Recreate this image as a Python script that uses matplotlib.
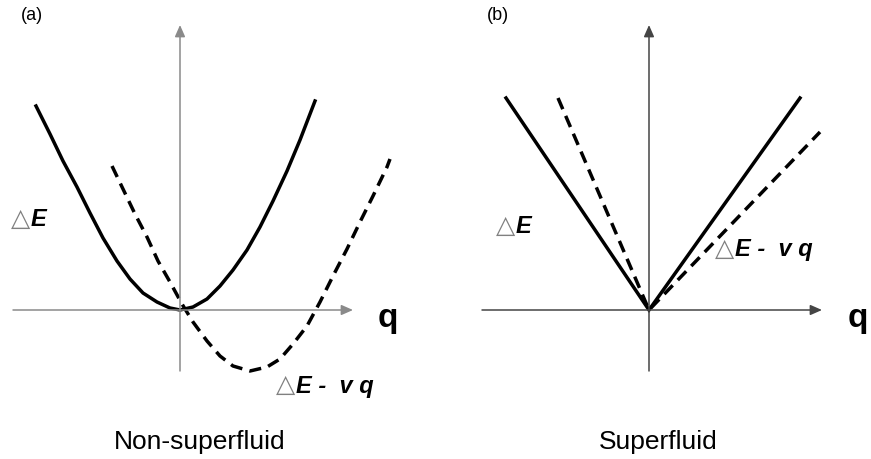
import matplotlib
matplotlib.use('Agg')
import matplotlib.pyplot as plt

# dispersion sketch, units are arbitrary (origin at the axis crossing)
# (a) normal fluid: excitation energy and the same seen from a moving frame
a_x_solid = [-1.44, -1.30, -1.17, -1.03, -0.90, -0.77, -0.63, -0.50, -0.37, -0.23, -0.10, 0.00,
             0.13, 0.27, 0.40, 0.53, 0.67, 0.80, 0.93, 1.07, 1.20, 1.35]
a_y_solid = [2.04, 1.76, 1.49, 1.23, 0.97, 0.72, 0.49, 0.31, 0.17, 0.08, 0.02, 0.00,
             0.03, 0.11, 0.24, 0.40, 0.60, 0.83, 1.09, 1.39, 1.70, 2.09]
a_x_dash = [-0.68, -0.57, -0.45, -0.33, -0.22, -0.10, 0.02, 0.13, 0.27, 0.40, 0.53, 0.70,
            0.87, 1.00, 1.13, 1.27, 1.40, 1.53, 1.67, 1.80, 1.93, 2.07, 2.10]
a_y_dash = [1.44, 1.21, 0.96, 0.73, 0.49, 0.28, 0.06, -0.12, -0.31, -0.46, -0.56, -0.61,
            -0.57, -0.49, -0.34, -0.16, 0.08, 0.34, 0.61, 0.88, 1.14, 1.43, 1.51]

# (b) superfluid: linear phonon branch
b_x_solid = [-1.43, 0.00, 1.51]
b_y_solid = [2.12, 0.00, 2.12]
b_x_dash = [-0.91, 0.00, 1.71]
b_y_dash = [2.12, 0.00, 1.78]

panel_tags = ['(a)', '(b)']
captions = ['Non-superfluid', 'Superfluid']

W, H = 871, 460
plt.rcParams['font.family'] = ['Liberation Sans', 'DejaVu Sans']
fig = plt.figure(figsize=(W / 100, H / 100), dpi=100)

ax_a = fig.add_axes([0, 0, 0.5, 1])
ax_b = fig.add_axes([0.5, 0, 0.5, 1])
ax_a.set_xlim(-1.80, 2.555)
ax_b.set_xlim(-2.135, 2.22)
for ax in (ax_a, ax_b):
    ax.set_ylim(-1.49, 3.11)
    ax.axis('off')

lw = 2.5
dash = (0, (3.5, 2.1))  # in units of line width


def draw_axes(ax, color):
    arrow = dict(arrowstyle='-|>,head_length=0.5,head_width=0.22', color=color, lw=1.1,
                 mutation_scale=14, shrinkA=0, shrinkB=0)
    ax.annotate('', xy=(1.73, 0), xytext=(-1.67, 0), arrowprops=arrow)
    ax.annotate('', xy=(0, 2.85), xytext=(0, -0.61), arrowprops=arrow)


draw_axes(ax_a, '#8a8a8a')
draw_axes(ax_b, '#454545')

ax_a.plot(a_x_solid, a_y_solid, color='black', lw=lw, solid_joinstyle='round')
ax_a.plot(a_x_dash, a_y_dash, color='black', lw=lw, linestyle=dash)
ax_b.plot(b_x_solid, b_y_solid, color='black', lw=lw, solid_joinstyle='miter')
ax_b.plot(b_x_dash, b_y_dash, color='black', lw=lw, linestyle=dash)


def px(x, y):
    return x / W, 1 - y / H


def delta_label(x, y, rest):
    # grey open triangle followed by the bold italic symbol text
    fig.text(*px(x - 1, y + 6), '\u25b3', color='#808080', fontsize=18,
             family=['DejaVu Sans'], va='baseline', ha='left')
    fig.text(*px(x + 19, y), rest, color='black', fontsize=17,
             fontweight='bold', fontstyle='italic', va='center', ha='left')


for tag, x in zip(panel_tags, [21, 487]):
    fig.text(*px(x, 15), tag, fontsize=13, va='center', ha='left')

for x in [378, 848]:
    fig.text(*px(x, 318), 'q', fontsize=24, fontweight='bold', va='center', ha='left')

delta_label(12, 220, 'E')
delta_label(497, 227, 'E')
delta_label(277, 386, 'E -  v q')
delta_label(716, 250, 'E -  v q')

for cap, x in zip(captions, [200, 658]):
    fig.text(*px(x, 449), cap, fontsize=19, va='baseline', ha='center')

fig.savefig('out.png', dpi=100)
